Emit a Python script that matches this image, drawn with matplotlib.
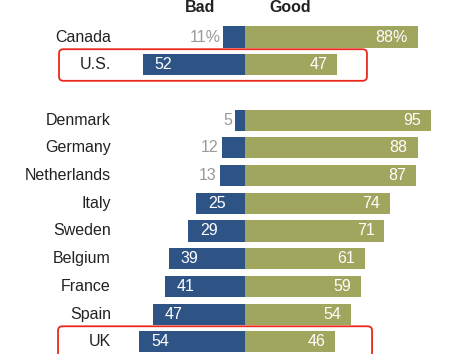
import matplotlib
matplotlib.use("Agg")
import matplotlib.pyplot as plt
from matplotlib.patches import FancyBboxPatch

countries = ["Canada", "U.S.", "Denmark", "Germany", "Netherlands", "Italy",
             "Sweden", "Belgium", "France", "Spain", "UK"]
rows = [0, 1, 3, 4, 5, 6, 7, 8, 9, 10, 11]
bad = [11, 52, 5, 12, 13, 25, 29, 39, 41, 47, 54]
good = [88, 47, 95, 88, 87, 74, 71, 61, 59, 54, 46]
highlight = ["U.S.", "UK"]

BLUE = "#2E5486"
GREEN = "#A1A65F"
GRAY = "#9A9A9A"
RED = "#E8291C"

plt.rcParams["font.family"] = ["Liberation Sans", "DejaVu Sans"]

fig = plt.figure(figsize=(4.73, 3.54), dpi=100)
ax = fig.add_axes([0, 0, 1, 1])
ax.set_xlim(-125, 116.3)
ax.set_ylim(11.44, -1.336)
ax.axis("off")

h = 0.76
ax.barh(rows, [-b for b in bad], height=h, color=BLUE, left=0)
ax.barh(rows, good, height=h, color=GREEN, left=0)

fs = 11.5
for i, (c, r, b, g) in enumerate(zip(countries, rows, bad, good)):
    ax.text(-68.4, r, c, ha="right", va="center", fontsize=fs, color="#222222")
    bl = f"{b}%" if i == 0 else f"{b}"
    gl = f"{g}%" if i == 0 else f"{g}"
    if b < 20:
        ax.text(-b - 1.5, r, bl, ha="right", va="center", fontsize=fs, color=GRAY)
    else:
        ax.text(-b + 6, r, bl, ha="left", va="center", fontsize=fs, color="white")
    ax.text(g - 5, r, gl, ha="right", va="center", fontsize=fs, color="white")

ax.text(-23, -1.08, "Bad", ha="center", va="center", fontsize=11.5,
        fontweight="bold", color="#222222")
ax.text(23, -1.08, "Good", ha="center", va="center", fontsize=11.5,
        fontweight="bold", color="#222222")

asp = (1.96 / 27.7)
for c in highlight:
    r = rows[countries.index(c)]
    if c == "U.S.":
        x0, x1 = -94.9, 62.2
    else:
        x0, x1 = -95.4, 64.8
    y0, y1 = r - 0.56, r + 0.58
    if c == "UK":
        y1 = r + 0.9
    box = FancyBboxPatch((x0, y0), x1 - x0, y1 - y0,
                         boxstyle="round,pad=0,rounding_size=2.2",
                         mutation_aspect=asp, fill=False, edgecolor=RED,
                         linewidth=1.3, zorder=5)
    ax.add_patch(box)

fig.savefig("out.png", dpi=100)
